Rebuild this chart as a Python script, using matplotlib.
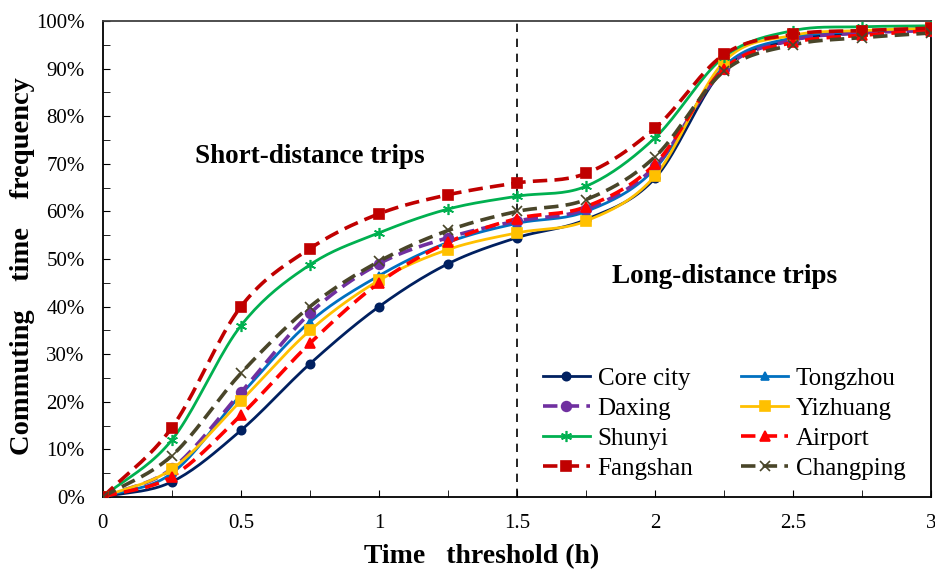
import numpy as np
import matplotlib
matplotlib.use('Agg')
import matplotlib.pyplot as plt
from matplotlib.ticker import MultipleLocator, FuncFormatter

plt.rcParams['font.family'] = ['Liberation Serif', 'DejaVu Serif']

hours = [0, 0.25, 0.5, 0.75, 1.0, 1.25, 1.5, 1.75, 2.0, 2.25, 2.5, 2.75, 3.0]

core_city = [0, 3.2, 14.0, 28.0, 40.0, 49.0, 54.5, 58.3, 67.0, 90.0, 96.0, 97.5, 98.5]
tongzhou = [0, 5.0, 21.5, 36.8, 46.5, 53.5, 57.5, 60.0, 69.0, 90.5, 96.5, 97.8, 98.5]
daxing = [0, 6.0, 22.0, 38.6, 49.0, 54.5, 58.0, 60.5, 69.5, 90.0, 96.0, 97.5, 98.0]
yizhuang = [0, 5.9, 20.2, 35.0, 45.5, 52.0, 55.5, 58.0, 67.5, 91.5, 97.0, 98.0, 98.5]
shunyi = [0, 12.0, 36.0, 48.8, 55.5, 60.5, 63.2, 65.3, 75.5, 92.5, 98.0, 98.8, 99.0]
airport = [0, 4.3, 17.2, 32.3, 45.0, 53.5, 58.5, 61.0, 70.0, 90.0, 95.5, 97.0, 98.0]
fangshan = [0, 14.6, 40.0, 52.2, 59.5, 63.5, 66.0, 68.0, 77.5, 93.0, 97.2, 98.0, 98.5]
changping = [0, 8.7, 26.0, 40.0, 49.5, 56.0, 60.0, 62.5, 71.5, 89.5, 95.0, 96.5, 97.5]


def smooth(x, y, n=20):
    # Catmull-Rom through the points, like Excel's smoothed line
    x = np.asarray(x, float)
    y = np.asarray(y, float)
    px = np.concatenate([[2 * x[0] - x[1]], x, [2 * x[-1] - x[-2]]])
    py = np.concatenate([[2 * y[0] - y[1]], y, [2 * y[-1] - y[-2]]])
    xs, ys = [], []
    t = np.linspace(0, 1, n, endpoint=False)
    for i in range(1, len(px) - 2):
        for p, out in ((px, xs), (py, ys)):
            p0, p1, p2, p3 = p[i - 1], p[i], p[i + 1], p[i + 2]
            out.extend(0.5 * (2 * p1 + (-p0 + p2) * t
                              + (2 * p0 - 5 * p1 + 4 * p2 - p3) * t ** 2
                              + (-p0 + 3 * p1 - 3 * p2 + p3) * t ** 3))
    xs.append(x[-1])
    ys.append(y[-1])
    return np.array(xs), np.array(ys)


series = [
    ('Core city', core_city, '#002060', '-', 'o', 6),
    ('Tongzhou', tongzhou, '#0070C0', '-', '^', 6),
    ('Daxing', daxing, '#7030A0', (0, (4, 2)), 'o', 7),
    ('Yizhuang', yizhuang, '#FFC000', '-', 's', 7),
    ('Shunyi', shunyi, '#00B050', '-', (6, 2, 0), 8),
    ('Airport', airport, '#FF0000', (0, (4, 2)), '^', 7),
    ('Fangshan', fangshan, '#C00000', (0, (4, 2)), 's', 7),
    ('Changping', changping, '#494529', (0, (4, 2)), 'x', 7),
]

fig = plt.figure(figsize=(9.35, 5.69), dpi=100)
ax = fig.add_axes([0.110, 0.1265, 0.886, 0.8365])

handles = {}
for name, vals, color, ls, mk, ms in series:
    lw = 2.0 if ls == '-' else 2.6
    sx, sy = smooth(hours, vals)
    ax.plot(sx, sy, color=color, linestyle=ls, linewidth=lw, zorder=3)
    ax.plot(hours, vals, linestyle='none', marker=mk, markersize=ms,
            color=color, markeredgecolor=color, markeredgewidth=1.2, zorder=4)
    handles[name], = ax.plot([], [], color=color, linestyle=ls, linewidth=lw,
                             marker=mk, markersize=ms, markeredgewidth=1.2)

ax.axvline(1.5, color='black', linestyle=(0, (5, 4)), linewidth=1.2, zorder=2)

ax.text(0.75, 71.5, 'Short-distance trips', fontsize=19.5, fontweight='bold',
        ha='center', va='center')
ax.text(2.25, 46.3, 'Long-distance trips', fontsize=19.5, fontweight='bold',
        ha='center', va='center')

ax.set_xlim(0, 3)
ax.set_ylim(0, 100)
ax.xaxis.set_major_locator(MultipleLocator(0.5))
ax.xaxis.set_minor_locator(MultipleLocator(0.25))
ax.yaxis.set_major_locator(MultipleLocator(10))
ax.yaxis.set_minor_locator(MultipleLocator(5))
ax.xaxis.set_major_formatter(FuncFormatter(lambda v, p: f'{v:g}'))
ax.yaxis.set_major_formatter(FuncFormatter(lambda v, p: f'{v:.0f}%'))
ax.tick_params(which='both', direction='in', labelsize=15)
ax.tick_params(which='major', length=5)
ax.tick_params(which='minor', length=5)
ax.tick_params(axis='x', pad=12)
ax.tick_params(axis='y', pad=13)
ax.tick_params(right=False, top=False)

ax.spines['top'].set_color('#404040')
for s in ('left', 'bottom', 'right'):
    ax.spines[s].set_color('black')
for s in ax.spines.values():
    s.set_linewidth(1.3)

ax.set_xlabel('Time   threshold (h)', fontsize=20, fontweight='bold',
              labelpad=8, x=0.457)
ax.set_ylabel('Commuting    time    frequency', fontsize=20.5, fontweight='bold',
              labelpad=1, y=0.486)

order = ['Core city', 'Daxing', 'Shunyi', 'Fangshan',
         'Tongzhou', 'Yizhuang', 'Airport', 'Changping']
ax.legend([handles[k] for k in order], order, loc='lower right', ncol=2,
          frameon=False, fontsize=18, handlelength=1.9, columnspacing=1.9,
          labelspacing=0.3, handletextpad=0.3, borderpad=0.2, borderaxespad=0,
          bbox_to_anchor=(0.975, 0.025))

fig.savefig('out.png', dpi=100)
